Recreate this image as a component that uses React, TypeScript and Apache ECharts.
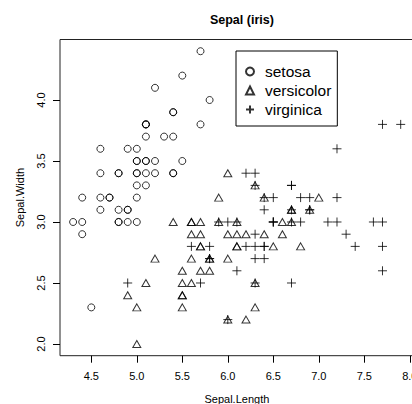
import React, { useEffect, useRef } from "react";
import * as echarts from "echarts";

const setosaLength = [5.1,4.9,4.7,4.6,5.0,5.4,4.6,5.0,4.4,4.9,5.4,4.8,4.8,4.3,5.8,5.7,5.4,5.1,5.7,5.1,5.4,5.1,4.6,5.1,4.8,5.0,5.0,5.2,5.2,4.7,4.8,5.4,5.2,5.5,4.9,5.0,5.5,4.9,4.4,5.1,5.0,4.5,4.4,5.0,5.1,4.8,5.1,4.6,5.3,5.0];
const setosaWidth = [3.5,3.0,3.2,3.1,3.6,3.9,3.4,3.4,2.9,3.1,3.7,3.4,3.0,3.0,4.0,4.4,3.9,3.5,3.8,3.8,3.4,3.7,3.6,3.3,3.4,3.0,3.4,3.5,3.4,3.2,3.1,3.4,4.1,4.2,3.1,3.2,3.5,3.6,3.0,3.4,3.5,2.3,3.2,3.5,3.8,3.0,3.8,3.2,3.7,3.3];
const versicolorLength = [7.0,6.4,6.9,5.5,6.5,5.7,6.3,4.9,6.6,5.2,5.0,5.9,6.0,6.1,5.6,6.7,5.6,5.8,6.2,5.6,5.9,6.1,6.3,6.1,6.4,6.6,6.8,6.7,6.0,5.7,5.5,5.5,5.8,6.0,5.4,6.0,6.7,6.3,5.6,5.5,5.5,6.1,5.8,5.0,5.6,5.7,5.7,6.2,5.1,5.7];
const versicolorWidth = [3.2,3.2,3.1,2.3,2.8,2.8,3.3,2.4,2.9,2.7,2.0,3.0,2.2,2.9,2.9,3.1,3.0,2.7,2.2,2.5,3.2,2.8,2.5,2.8,2.9,3.0,2.8,3.0,2.9,2.6,2.4,2.4,2.7,2.7,3.0,3.4,3.1,2.3,3.0,2.5,2.6,3.0,2.6,2.3,2.7,3.0,2.9,2.9,2.5,2.8];
const virginicaLength = [6.3,5.8,7.1,6.3,6.5,7.6,4.9,7.3,6.7,7.2,6.5,6.4,6.8,5.7,5.8,6.4,6.5,7.7,7.7,6.0,6.9,5.6,7.7,6.3,6.7,7.2,6.2,6.1,6.4,7.2,7.4,7.9,6.4,6.3,6.1,7.7,6.3,6.4,6.0,6.9,6.7,6.9,5.8,6.8,6.7,6.7,6.3,6.5,6.2,5.9];
const virginicaWidth = [3.3,2.7,3.0,2.9,3.0,3.0,2.5,2.9,2.5,3.6,3.2,2.7,3.0,2.5,2.8,3.2,3.0,3.8,2.6,2.2,3.2,2.8,2.8,2.7,3.3,3.2,2.8,3.0,2.8,3.0,2.8,3.8,2.8,2.8,2.6,3.0,3.4,3.1,3.0,3.1,3.1,3.1,2.7,3.2,3.3,3.0,2.5,3.0,3.4,3.0];

const speciesNames = ["setosa", "versicolor", "virginica"];
const xTicks = [4.5, 5.0, 5.5, 6.0, 6.5, 7.0, 7.5, 8.0];
const yTicks = [2.0, 2.5, 3.0, 3.5, 4.0];

const FONT = "'Liberation Sans', Arial, Helvetica, sans-serif";
const PLUS = "path://M0,5L10,5M5,0L5,10";

const zip = (a: number[], b: number[]) => a.map((v, i) => [v, b[i]]);

export default function App() {
  const ref = useRef<HTMLDivElement>(null);
  useEffect(() => {
    if (!ref.current) return;
    const chart = echarts.init(ref.current, null, { renderer: "svg" });
    const markStyle = { color: "transparent", borderColor: "#000", borderWidth: 1 };
    chart.setOption({
      animation: false,
      backgroundColor: "#fff",
      title: {
        text: "Sepal (iris)",
        left: 236.9,
        top: 8,
        textAlign: "center",
        textStyle: { fontFamily: FONT, fontSize: 12.5, fontWeight: "bold", color: "#000" },
      },
      grid: {
        left: 60,
        top: 39.5,
        width: 353.8,
        height: 316.2,
        show: true,
        borderColor: "#222",
        borderWidth: 1,
        backgroundColor: "transparent",
        outerBoundsMode: "none",
        containLabel: false,
      },
      legend: {
        orient: "vertical",
        left: 236,
        top: 51,
        padding: [11, 6, 7, 9],
        itemGap: 0,
        itemWidth: 8,
        itemHeight: 8,
        borderColor: "#000",
        borderWidth: 1,
        backgroundColor: "#fff",
        data: speciesNames,
        textStyle: { fontFamily: FONT, fontSize: 15.5, color: "#000", lineHeight: 19, padding: [0, 0, 0, 6] },
      },
      xAxis: {
        type: "value",
        min: 4.156,
        max: 8.044,
        name: "Sepal.Length",
        nameLocation: "middle",
        nameGap: 37.5,
        nameMoveOverlap: false,
        nameTextStyle: { fontFamily: FONT, fontSize: 11, color: "#000" },
        axisLine: { show: false },
        splitLine: { show: false },
        axisTick: { show: true, length: 7, lineStyle: { color: "#000" }, customValues: xTicks },
        axisLabel: {
          customValues: xTicks,
          formatter: (v: number) => v.toFixed(1),
          fontFamily: FONT,
          fontSize: 11,
          color: "#000",
          margin: 15,
          hideOverlap: false,
        },
      },
      yAxis: {
        type: "value",
        min: 1.904,
        max: 4.496,
        name: "Sepal.Width",
        nameLocation: "middle",
        nameGap: 34.5,
        nameMoveOverlap: false,
        nameTextStyle: { fontFamily: FONT, fontSize: 11, color: "#000" },
        axisLine: { show: false },
        splitLine: { show: false },
        axisTick: { show: true, length: 7, lineStyle: { color: "#000" }, customValues: yTicks },
        axisLabel: {
          customValues: yTicks,
          formatter: (v: number) => v.toFixed(1),
          rotate: 90,
          fontFamily: FONT,
          fontSize: 11,
          color: "#000",
          margin: 14,
          hideOverlap: false,
        },
      },
      series: [
        {
          name: speciesNames[0],
          type: "scatter",
          symbol: "circle",
          symbolSize: 7,
          itemStyle: markStyle,
          data: zip(setosaLength, setosaWidth),
        },
        {
          name: speciesNames[1],
          type: "scatter",
          symbol: "triangle",
          symbolSize: [8, 7],
          itemStyle: markStyle,
          data: zip(versicolorLength, versicolorWidth),
        },
        {
          name: speciesNames[2],
          type: "scatter",
          symbol: PLUS,
          symbolSize: 9,
          itemStyle: markStyle,
          data: zip(virginicaLength, virginicaWidth),
        },
      ],
    });
    return () => chart.dispose();
  }, []);
  return (
    <div
      ref={ref}
      style={{ position: "fixed", left: 0, top: 0, width: 420, height: 404 }}
    />
  );
}
